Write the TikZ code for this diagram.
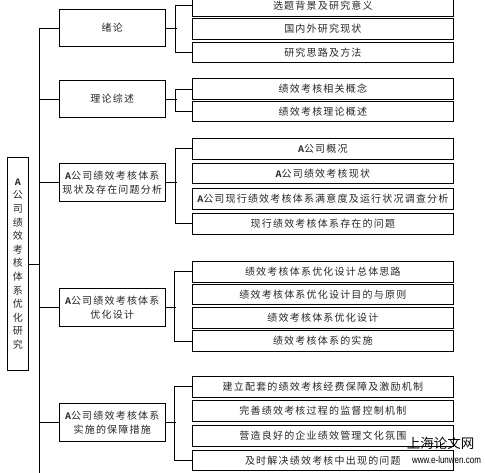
\documentclass[tikz,border=0pt]{standalone}
\usepackage{fontspec}
\newfontfamily\cjk{Noto Sans CJK SC}[LetterSpace=12]
\newfontfamily\cjkv{Noto Sans CJK SC}
\newfontfamily\monob{Liberation Mono}
\newfontfamily\wmfont{Liberation Sans}
\newcommand\Ab{{\monob\bfseries A}}
\begin{document}
\begin{tikzpicture}[x=1pt,y=-1pt,
  box/.style={draw, line width=0.9pt, rectangle, inner sep=0pt, align=center,
    text=black!85, font=\cjk\fontsize{10}{14}\selectfont},
  childbox/.style={box, minimum width=260.3pt, minimum height=20.5pt},
  parentbox/.style={box, minimum width=106.5pt, minimum height=37.5pt},
  link/.style={line width=0.8pt}]
\useasboundingbox (0,0) rectangle (485,472);
\clip (0,0) rectangle (485,472);
% main box
\node[box, minimum width=21pt, minimum height=212.7pt,
  font=\cjkv\fontsize{10}{13.6}\selectfont] (main) at (17.8,264)
  {\Ab\\公\\司\\绩\\效\\考\\核\\体\\系\\优\\化\\研\\究};
% parents
\node[parentbox] (p1) at (112.25,28) {绪论};
\node[parentbox] (p2) at (112.25,98.9) {理论综述};
\node[parentbox] (p3) at (112.25,182.5) {\Ab 公司绩效考核体系\\现状及存在问题分析};
\node[parentbox] (p4) at (112.25,307.3) {\Ab 公司绩效考核体系\\优化设计};
\node[parentbox] (p5) at (112.25,422.2) {\Ab 公司绩效考核体系\\实施的保障措施};
% children
\node[childbox] (c11) at (322.85,5.7) {选题背景及研究意义};
\node[childbox] (c12) at (322.85,29) {国内外研究现状};
\node[childbox] (c13) at (322.85,52.5) {研究思路及方法};
\node[childbox] (c21) at (322.85,89) {绩效考核相关概念};
\node[childbox] (c22) at (322.85,111.5) {绩效考核理论概述};
\node[childbox] (c31) at (322.85,148.7) {\Ab 公司概况};
\node[childbox] (c32) at (322.85,173.3) {\Ab 公司绩效考核现状};
\node[childbox] (c33) at (322.85,198.7) {\Ab 公司现行绩效考核体系满意度及运行状况调查分析};
\node[childbox] (c34) at (322.85,223.8) {现行绩效考核体系存在的问题};
\node[childbox] (c41) at (322.85,271.7) {绩效考核体系优化设计总体思路};
\node[childbox] (c42) at (322.85,294.3) {绩效考核体系优化设计目的与原则};
\node[childbox] (c43) at (322.85,317.7) {绩效考核体系优化设计};
\node[childbox] (c44) at (322.85,341) {绩效考核体系的实施};
\node[childbox] (c51) at (322.85,386.7) {建立配套的绩效考核经费保障及激励机制};
\node[childbox] (c52) at (322.85,411) {完善绩效考核过程的监督控制机制};
\node[childbox] (c53) at (322.85,435.7) {营造良好的企业绩效管理文化氛围};
\node[childbox] (c54) at (322.85,460.5) {及时解决绩效考核中出现的问题};
% trunk
\coordinate (ttop) at (39.3,28);
\coordinate (tbot) at (39.3,475);
\draw[link] (ttop) -- (tbot);
\draw[link] (p1.west) -- (p1.west -| ttop);
\draw[link] (p2.west) -- (p2.west -| ttop);
\draw[link] (p3.west) -- (p3.west -| ttop);
\draw[link] (p4.west) -- (p4.west -| ttop);
\draw[link] (p5.west) -- (p5.west -| ttop);
\draw[link] (main.east) -- (main.east -| ttop);
% brackets
\draw[link] (c11.west) -- ++(-17,0) |- (c13.west);
\draw[link] (p1.east) -- ++(10.7,0);
\draw[link] (c21.west) -- ++(-17,0) |- (c22.west);
\draw[link] (p2.east) -- ++(10.7,0);
\draw[link] (c31.west) -- ++(-17,0) |- (c34.west);
\draw[link] (p3.east) -- ++(10.7,0);
\draw[link] (c41.west) -- ++(-17.5,0) |- (c44.west);
\draw[link] (p4.east) -- ++(10,0);
\draw[link] (c51.west) -- ++(-17.5,0) |- (c54.west);
\draw[link] (p5.east) -- ++(10,0);
% watermark
\node[inner sep=0pt, font=\cjkv\fontsize{13.5}{13.5}\selectfont] (wm1) at (440.5,443) {上海论文网};
\node[inner sep=0pt, font=\wmfont\fontsize{10}{10}\selectfont] (wm2) at (446.5,459.5) {\scalebox{0.8}[1]{www.e-lunwen.com}};
\end{tikzpicture}
\end{document}
